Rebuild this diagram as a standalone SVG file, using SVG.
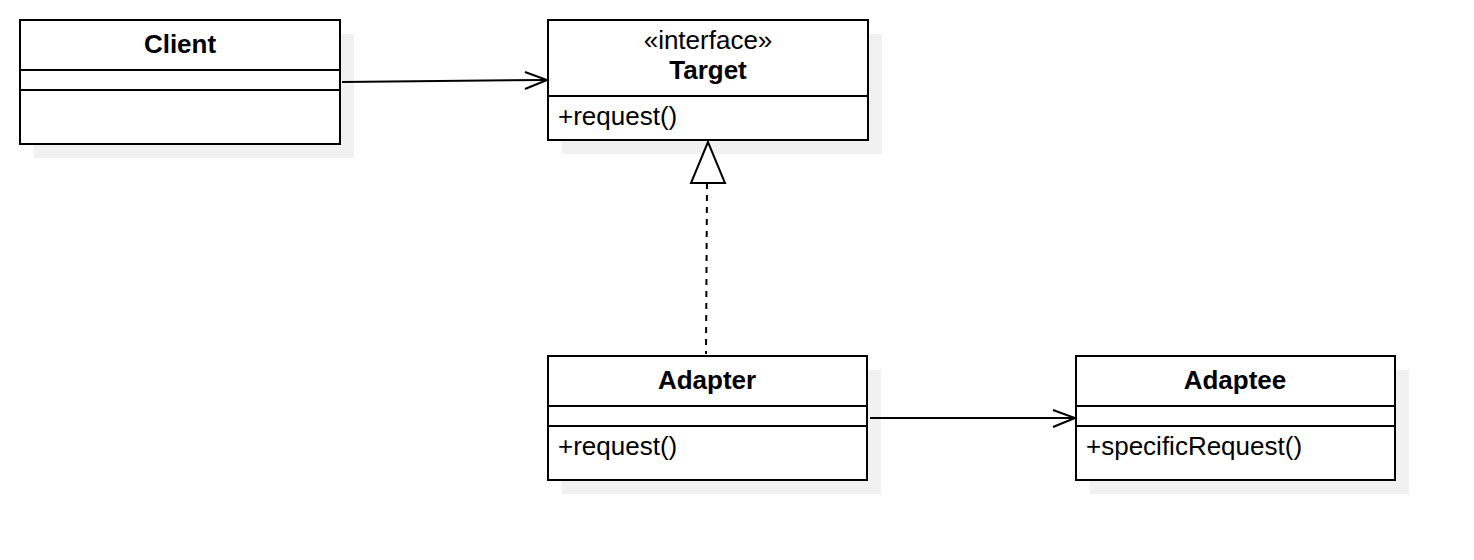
<svg xmlns="http://www.w3.org/2000/svg" width="1474" height="560" viewBox="0 0 1474 560">
<style>
.shadow{fill:#f1f1f1;stroke:none}
.box{fill:#ffffff;stroke:#000000;stroke-width:2}
.div{stroke:#000000;stroke-width:2;fill:none}
.t{font-family:"Liberation Sans",Arial,sans-serif;font-size:26px;fill:#000000}
.b{font-weight:bold}
.c{text-anchor:middle}
.edge{stroke:#000000;stroke-width:2;fill:none}
.dash{stroke-dasharray:6 6}
</style>
<rect width="1474" height="560" fill="#ffffff"/>
<g id="client">
<rect class="shadow" x="34" y="34" width="320" height="124"/>
<rect class="box" x="20" y="20" width="320" height="124"/>
<path class="div" d="M20,70 H340 M20,90 H340"/>
<text class="t b c" x="180" y="53">Client</text>
</g>
<g id="target">
<rect class="shadow" x="562" y="34" width="320" height="120"/>
<rect class="box" x="548" y="20" width="320" height="120"/>
<path class="div" d="M548,96 H868"/>
<text class="t c" x="708" y="49">«interface»</text>
<text class="t b c" x="708" y="79">Target</text>
<text class="t" x="558" y="125">+request()</text>
</g>
<g id="adapter">
<rect class="shadow" x="562" y="370" width="319" height="124"/>
<rect class="box" x="548" y="356" width="319" height="124"/>
<path class="div" d="M548,406 H867 M548,426 H867"/>
<text class="t b c" x="707" y="389">Adapter</text>
<text class="t" x="558" y="455">+request()</text>
</g>
<g id="adaptee">
<rect class="shadow" x="1090" y="370" width="319" height="124"/>
<rect class="box" x="1076" y="356" width="319" height="124"/>
<path class="div" d="M1076,406 H1395 M1076,426 H1395"/>
<text class="t b c" x="1235" y="389">Adaptee</text>
<text class="t" x="1086" y="455">+specificRequest()</text>
</g>
<g id="connectors">
<path class="edge" d="M342,82 L545,80"/>
<path class="edge" d="M525,72 L547,80 L525,89"/>
<path class="edge dash" d="M707,183 L706,354"/>
<path d="M708,142 L691,183 L725,183 Z" fill="#ffffff" stroke="#000000" stroke-width="2"/>
<path class="edge" d="M870,418 L1073,418"/>
<path class="edge" d="M1053,410 L1075,418 L1053,427"/>
</g>
</svg>
